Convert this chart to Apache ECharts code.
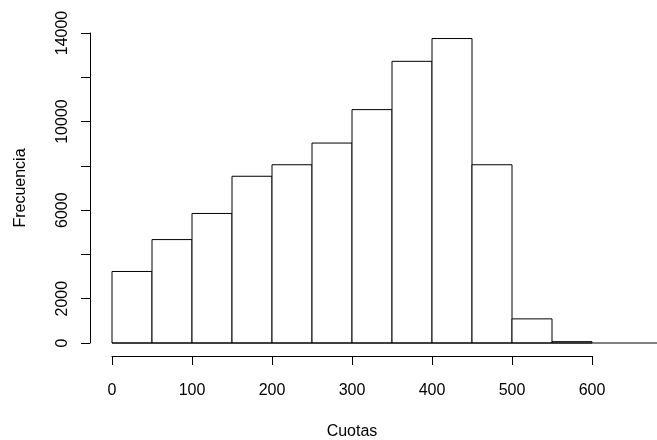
<!DOCTYPE html>
<html>
<head>
<meta charset="utf-8">
<script src="https://cdn.jsdelivr.net/npm/echarts@6/dist/echarts.min.js"></script>
<style>
  html, body { margin: 0; padding: 0; background: #fff; }
  #chart { width: 657px; height: 440px; }
</style>
</head>
<body>
<div id="chart"></div>
<script>
// histogram bins (Cuotas) and counts (Frecuencia)
const binStarts = [0, 50, 100, 150, 200, 250, 300, 350, 400, 450, 500, 550];
const binWidth = 50;
const counts = [3230, 4670, 5850, 7530, 8050, 9030, 10540, 12720, 13750, 8050, 1090, 60];
// R drops some y labels when they would overlap
const yLabelsShown = ['0', '2000', '6000', '10000', '14000'];

const data = binStarts.map((s, i) => [s, s + binWidth, counts[i]]);

const chart = echarts.init(document.getElementById('chart'), null, { renderer: 'canvas' });

const font = 'Liberation Sans, Arial, sans-serif';

const option = {
  backgroundColor: '#fff',
  animation: false,
  grid: { left: 112, right: 65, top: 33, bottom: 97, outerBoundsMode: 'none' },
  xAxis: {
    type: 'value',
    min: 0,
    max: 600,
    interval: 100,
    offset: 13,
    name: 'Cuotas',
    nameLocation: 'middle',
    nameGap: 68,
    nameTextStyle: { color: '#000', fontSize: 16, fontFamily: font },
    axisLine: { show: true, onZero: false, lineStyle: { color: '#000', width: 1 } },
    axisTick: { show: true, length: 9, lineStyle: { color: '#000' } },
    axisLabel: { color: '#000', fontSize: 16, fontFamily: font, margin: 27 },
    splitLine: { show: false }
  },
  yAxis: {
    type: 'value',
    min: 0,
    max: 14000,
    interval: 2000,
    offset: 22,
    name: 'Frecuencia',
    nameLocation: 'middle',
    nameGap: 61,
    nameTextStyle: { color: '#000', fontSize: 16, fontFamily: font },
    axisLine: { show: true, onZero: false, lineStyle: { color: '#000', width: 1 } },
    axisTick: { show: true, length: 9, lineStyle: { color: '#000' } },
    axisLabel: {
      color: '#000',
      fontSize: 16,
      fontFamily: font,
      rotate: 90,
      margin: 19,
      formatter: (v) => (yLabelsShown.includes(String(v)) ? String(v) : '')
    },
    splitLine: { show: false }
  },
  series: [{
    type: 'custom',
    data: data,
    encode: { x: [0, 1], y: 2 },
    renderItem: (params, api) => {
      const start = api.coord([api.value(0), api.value(2)]);
      const end = api.coord([api.value(1), 0]);
      return {
        type: 'rect',
        shape: { x: start[0], y: start[1], width: end[0] - start[0], height: end[1] - start[1] },
        style: { fill: '#fff', stroke: '#000', lineWidth: 1 }
      };
    }
  }]
};

chart.setOption(option);

// baseline at y = 0 runs past the last bin to the edge of the figure
const p = chart.convertToPixel({ gridIndex: 0 }, [0, 0]);
chart.setOption({
  graphic: [{
    type: 'line',
    shape: { x1: p[0], y1: p[1], x2: chart.getWidth(), y2: p[1] },
    style: { stroke: '#000', lineWidth: 1 },
    z: 10
  }]
});
</script>
</body>
</html>
